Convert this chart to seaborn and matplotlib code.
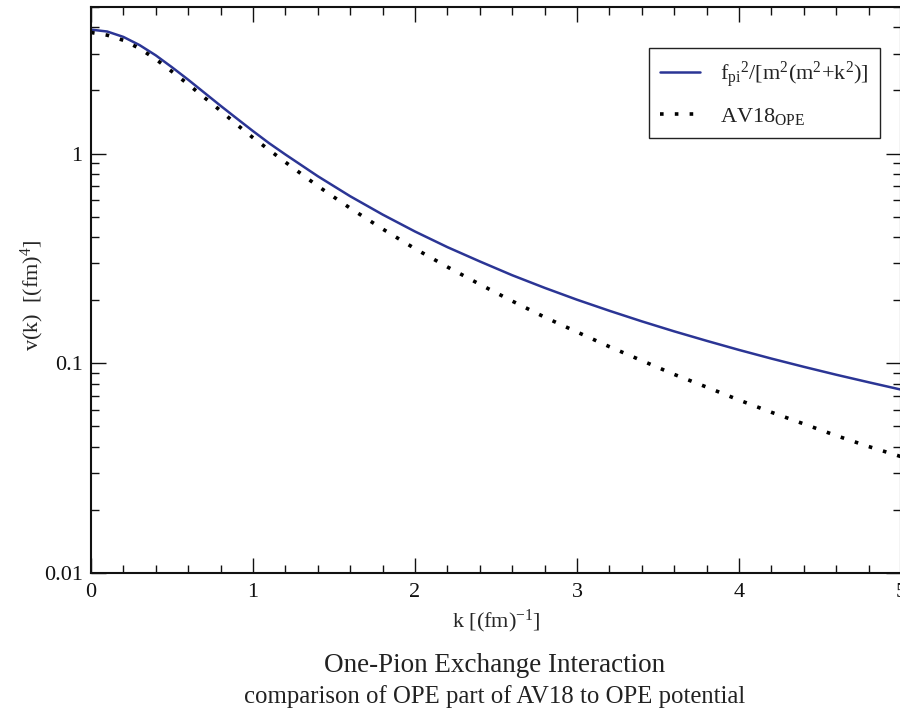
import matplotlib
matplotlib.use("Agg")
import matplotlib.pyplot as plt
import numpy as np
import pandas as pd
import seaborn as sns
from matplotlib.ticker import MultipleLocator, LogLocator, NullFormatter

# momentum grid k [(fm)^-1]
k = [0.0, 0.1, 0.2, 0.3, 0.4, 0.5, 0.6, 0.7, 0.8, 0.9, 1.0, 1.1, 1.2,
     1.4, 1.6, 1.8, 2.0, 2.2, 2.4, 2.6, 2.8, 3.0, 3.2, 3.4, 3.6, 3.8,
     4.0, 4.2, 4.4, 4.6, 4.8, 5.0]

# OPE potential f_pi^2 / [m^2 (m^2 + k^2)]
v_ope = [3.90, 3.82, 3.60, 3.29, 2.94, 2.58, 2.25, 1.95, 1.69, 1.47, 1.28,
         1.12, 0.990, 0.780, 0.626, 0.512, 0.425, 0.358, 0.306, 0.263,
         0.229, 0.201, 0.178, 0.1585, 0.142, 0.128, 0.1158, 0.1053,
         0.0962, 0.0882, 0.0812, 0.0749]

# OPE part of AV18
v_av18 = [3.78, 3.67, 3.47, 3.17, 2.82, 2.46, 2.14, 1.85, 1.60, 1.375, 1.19,
          1.04, 0.91, 0.70, 0.549, 0.437, 0.352, 0.288, 0.238, 0.198,
          0.166, 0.141, 0.120, 0.103, 0.0885, 0.077, 0.0668, 0.0584,
          0.0514, 0.0452, 0.0401, 0.0359]

x_ticks = [0, 1, 2, 3, 4, 5]
x_tick_labels = ["0", "1", "2", "3", "4", "5"]
y_ticks = [0.01, 0.1, 1]
y_tick_labels = ["0.01", "0.1", "1"]

label_ope = r"f$_{pi}$$^{2}$/[m$^{2}$(m$^{2}$+k$^{2}$)]"
label_av18 = r"AV18$_{OPE}$"

df = pd.DataFrame({"k": k, "v_ope": v_ope, "v_av18": v_av18})

sns.set_theme(style="ticks")
plt.rcParams.update({
    "font.family": ["Liberation Serif", "DejaVu Serif"],
    "mathtext.fontset": "custom",
    "mathtext.rm": "Liberation Serif",
    "mathtext.it": "Liberation Serif",
    "mathtext.bf": "Liberation Serif",
    "mathtext.default": "regular",
    "text.color": "#222222",
    "axes.edgecolor": "#111111",
    "xtick.color": "#111111",
    "ytick.color": "#111111",
})

fig = plt.figure(figsize=(9, 7.14), dpi=100)
ax = fig.add_axes([91 / 900, 1 - 573 / 714, 810 / 900, 566 / 714])

sns.lineplot(data=df, x="k", y="v_ope", ax=ax, color="#2b3595",
             linewidth=1.8, label=label_ope, sort=False)
sns.lineplot(data=df, x="k", y="v_av18", ax=ax, color="black",
             linewidth=2.6, linestyle=(0, (1, 3.1)), label=label_av18,
             sort=False)

ax.set_yscale("log")
ax.set_xlim(0, 5)
ax.set_ylim(0.01, 5)

ax.set_xticks(x_ticks, labels=x_tick_labels)
ax.xaxis.set_minor_locator(MultipleLocator(0.2))
ax.set_yticks(y_ticks, labels=y_tick_labels)
ax.yaxis.set_minor_locator(LogLocator(base=10, subs=np.arange(2, 10)))
ax.yaxis.set_minor_formatter(NullFormatter())

ax.tick_params(which="both", direction="in", top=True, right=True,
               labelsize=16, width=1.0)
ax.tick_params(which="major", length=10.8)
ax.tick_params(which="minor", length=5.6)
ax.tick_params(axis="x", which="major", pad=7)
ax.tick_params(axis="y", which="major", pad=6)
for sp in ax.spines.values():
    sp.set_linewidth(1.5)
    sp.set_visible(True)

ax.set_xlabel(r"k [(fm)$^{-1}$]", fontsize=16)
ax.xaxis.set_label_coords(0.5, -0.062)
ax.set_ylabel(r"v(k)  [(fm)$^{4}$]", fontsize=16)
ax.yaxis.set_label_coords(-0.055, 0.49)

leg = ax.legend(loc="upper right", bbox_to_anchor=(0.974, 0.928),
                borderaxespad=0, fontsize=16, frameon=True, fancybox=False,
                framealpha=1, edgecolor="#222222", handlelength=1.8,
                handletextpad=0.9, borderpad=0.5, labelspacing=0.75)
leg.get_frame().set_linewidth(1.0)

fig.text(495 / 900, 1 - 665 / 714, "One-Pion Exchange Interaction",
         ha="center", va="center", fontsize=19.5)
fig.text(495 / 900, 1 - 697 / 714,
         "comparison of OPE part of AV18 to OPE potential",
         ha="center", va="center", fontsize=17.8)

fig.savefig("out.png", dpi=100)
